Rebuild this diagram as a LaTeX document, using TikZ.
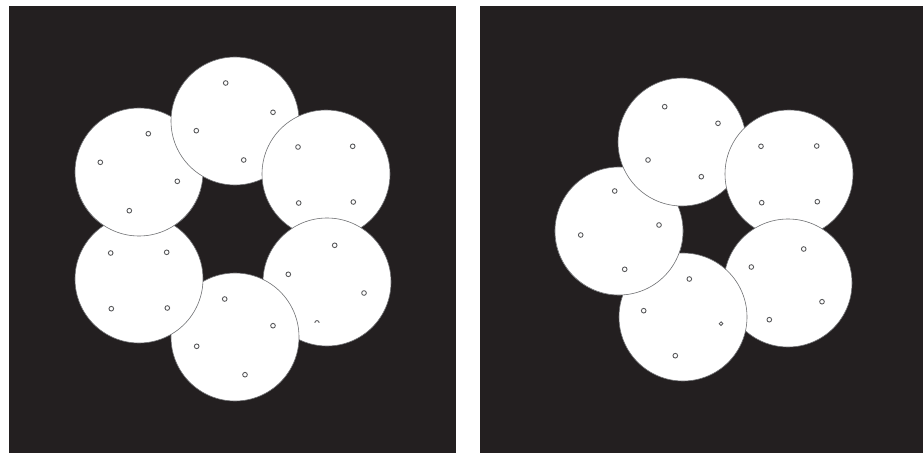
\documentclass[tikz,border=0pt]{standalone}
\usepackage{tikz}
\definecolor{panelbg}{HTML}{231F20}
\definecolor{rimgray}{HTML}{6D6E71}
\definecolor{dotgray}{HTML}{58595B}
\tikzset{
 panel/.style={fill=panelbg,draw=none},
 disc/.style={circle,fill=white,draw=rimgray,line width=0.5pt,inner sep=0pt,
             minimum size=3.84cm},
 dot/.style={circle,draw=dotgray,line width=0.75pt,fill=white,inner sep=0pt,
             minimum size=0.14cm}
}

\begin{document}
\begin{tikzpicture}[x=0.03cm,y=-0.03cm]
\useasboundingbox (0,0) rectangle (923,453);
\fill[white] (0,0) rectangle (923,453);
\path[panel] (9,6) rectangle (456,453);
\path[panel] (480,6) rectangle (923,453);
% left panel, six discs in a ring
\node[disc] (ul) at (139,172) {};
\node[disc] (top) at (235,121) {};
\node[disc] (ur) at (326,174) {};
\node[disc] (lr) at (327,282) {};
\node[disc] (bot) at (235,337) {};
\node[disc] (ll) at (139,279) {};
\begin{scope}
 \clip (60,190) rectangle (220,250);
 \node[disc] (ulfront) at (139,172) {};
\end{scope}
% right panel, five discs
\node[disc] (lf) at (619,231) {};
\node[disc] (rtop) at (682,142) {};
\node[disc] (rur) at (789,174) {};
\node[disc] (rlr) at (788,283) {};
\node[disc] (rbot) at (683,317) {};
\begin{scope}
 \clip (540,222) rectangle (700,310);
 \node[disc] (lffront) at (619,231) {};
\end{scope}
% markers
\foreach \x/\y/\n in {225.7/83/t1,273/112.3/t2,196.3/130.7/t3,243.7/160/t4,
  148.3/133.7/a1,100.3/162.3/a2,177.3/181.3/a3,129.3/210.7/a4,
  298/147/b1,352.7/146.3/b2,298.7/203/b3,353.3/202/b4,
  110.7/253/c1,166.7/252.3/c2,111.3/308.7/c3,167.3/308/c4,
  334.7/245.3/d1,288.3/274.3/d2,364/293/d3,
  224.7/299/e1,273/325.7/e2,196.7/346.3/e3,245/374.7/e4,
  664.7/106.7/f1,718/123.3/f2,648/160/f3,701.3/176.7/f4,
  761/146.3/g1,816.7/146/g2,761.7/202.7/g3,817.3/201.7/g4,
  614.7/191/h1,659/225/h2,580.7/235/h3,624.7/269.3/h4,
  689.3/279/k1,643.7/310.7/k2,675.3/355.7/k4,
  803.7/249/m1,751.3/267/m2,822/301.7/m3,769.3/319.7/m4}
  \node[dot] (dot\n) at (\x,\y) {};
\node[dot,minimum size=0.11cm] (dotk3) at (721,323.7) {};
\draw[dotgray,line width=0.75pt] (319.2,322.8) arc[start angle=0,end angle=-180,radius=2.2];
\end{tikzpicture}
\end{document}
